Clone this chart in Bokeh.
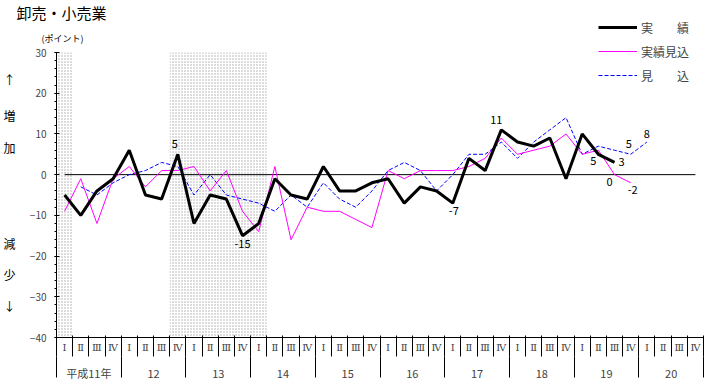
from bokeh.plotting import figure
from bokeh.models import (FixedTicker, LinearAxis, Range1d, Legend, LegendItem, Label,
                          ColumnDataSource)
from bokeh.core.properties import value
from bokeh.embed import file_html
from bokeh.resources import INLINE

# ---------------- data ----------------
quarter_names = ["Ⅰ", "Ⅱ", "Ⅲ", "Ⅳ"]
year_labels = ["平成11年", "12", "13", "14", "15", "16", "17", "18", "19", "20"]

# 実績 (actual)  平成11年Ⅰ .. 平成19年Ⅲ
jisseki = [-5, -10, -4, -1, 6, -5, -6, 5, -12, -5, -6, -15, -12, -1, -5, -6,
           2, -4, -4, -2, -1, -7, -3, -4, -7, 4, 1, 11, 8, 7, 9, -1, 10, 5, 3]
# 実績見込 (estimated actual)  平成11年Ⅰ .. 平成19年Ⅳ
jisseki_mikomi = [-9, -1, -12, -1, 2, -3, 1, 1, 2, -4, 1, -9, -14, 2, -16, -8,
                  -9, -9, -11, -13, 1, -1, 1, 1, 1, 2, 4, 9, 5, 6, 7, 10, 5, 6, 0, -2]
# 見込 (forecast)  平成11年Ⅱ .. 平成20年Ⅰ  (first quarter has no value)
mikomi = [None, -3, -5, -2, 0, 1, 3, 2, -5, 0, -5, -6, -7, -9, -5, -8,
          -2, -6, -8, -4, 1, 3, 1, -4, 0, 5, 5, 8, 4, 8, 11, 14, 5, 7, 6, 5, 8]

# shaded (recession) periods: (start year, start quarter, end year, end quarter)
shaded_periods = [("平成11年", "Ⅰ", "平成11年", "Ⅰ"), ("12", "Ⅳ", "14", "Ⅰ")]

# values printed next to points: (series, quarter index, dx px, dy px)
label_specs = [
    ("jisseki", 7, -3, -10),
    ("jisseki", 11, 0, 8),
    ("jisseki", 24, 1, 8),
    ("jisseki", 27, -5, -10),
    ("jisseki", 33, -5, 7),
    ("jisseki", 34, 7, 0),
    ("jisseki_mikomi", 34, -5, 7),
    ("jisseki_mikomi", 35, 2, 7),
    ("mikomi", 35, -2, -10),
    ("mikomi", 36, 0, -8),
]

# ---------------- geometry ----------------
W, H = 714, 389
n_q = len(year_labels) * 4
centers = [i + 0.5 for i in range(n_q)]
Y_MIN, Y_MAX = -40, 30
FL, FT, FW, FH = 56, 52, 647, 285      # plotting area on the page (px)
QW = FW / n_q                          # px per quarter
PYU = FH / (Y_MAX - Y_MIN)             # px per point
YEAR_ROW = 356                         # page y where the year row starts


def px2x(px):
    return (px - FL) / QW


def py2y(py):
    return Y_MAX - (py - FT) / PYU


JP = "Noto Sans CJK JP"

# the frame covers the whole page; axes are placed at fixed locations
p = figure(frame_width=W, frame_height=H,
           x_range=Range1d(px2x(0), px2x(W)), y_range=Range1d(py2y(H), py2y(0)),
           output_backend="svg", toolbar_location=None,
           min_border_left=0, min_border_right=0, min_border_top=0,
           min_border_bottom=0, x_axis_type=None, y_axis_type=None)
p.outline_line_color = None
p.background_fill_color = "white"
p.border_fill_color = "white"

# y axis
yaxis = LinearAxis(ticker=FixedTicker(ticks=list(range(Y_MIN, Y_MAX + 1, 10)),
                                      minor_ticks=list(range(Y_MIN, Y_MAX + 1, 2))),
                   fixed_location=0, bounds=(Y_MIN, Y_MAX))
yaxis.major_tick_in = 3
yaxis.major_tick_out = 2
yaxis.minor_tick_in = 0
yaxis.minor_tick_out = 2
yaxis.major_label_standoff = 8
yaxis.major_label_text_font = JP
yaxis.major_label_text_font_size = "10px"
p.add_layout(yaxis, "left")

# quarter axis
qaxis = LinearAxis(ticker=FixedTicker(ticks=centers, minor_ticks=list(range(n_q + 1))),
                   fixed_location=Y_MIN, bounds=(0, n_q))
qaxis.major_label_overrides = {c: quarter_names[i % 4] for i, c in enumerate(centers)}
qaxis.major_tick_in = 0
qaxis.major_tick_out = 0
qaxis.minor_tick_in = 2
qaxis.minor_tick_out = 19
qaxis.major_label_standoff = -15
qaxis.major_label_text_font = "DejaVu Serif"
qaxis.major_label_text_font_size = "10px"
p.add_layout(qaxis, "below")

# year axis
ycenters = [4 * k + 2 for k in range(len(year_labels))]
yraxis = LinearAxis(ticker=FixedTicker(ticks=ycenters, minor_ticks=list(range(0, n_q + 1, 4))),
                    fixed_location=py2y(YEAR_ROW), bounds=(0, n_q))
yraxis.major_label_overrides = {c: year_labels[k] for k, c in enumerate(ycenters)}
yraxis.axis_line_color = None
yraxis.major_tick_in = 0
yraxis.major_tick_out = 0
yraxis.minor_tick_in = 0
yraxis.minor_tick_out = 21
yraxis.major_label_standoff = -13
yraxis.major_label_text_font = JP
yraxis.major_label_text_font_size = "11px"
p.add_layout(yraxis, "below")


# shaded periods
def qidx(y, q):
    return year_labels.index(y) * 4 + quarter_names.index(q)


lefts, rights = [], []
for (y0, q0, y1, q1) in shaded_periods:
    lefts.append(qidx(y0, q0))
    rights.append(qidx(y1, q1) + 1)
p.quad(left=lefts, right=rights, bottom=Y_MIN, top=Y_MAX, fill_color=None,
       line_color=None, hatch_pattern="dot", hatch_color="#a8a8a8", hatch_scale=3,
       hatch_weight=1)

# zero line
p.segment(x0=[centers[0]], y0=[0], x1=[centers[-1]], y1=[0], line_color="black", line_width=1)


# series
def xy(series):
    xs = [centers[i] for i, v in enumerate(series) if v is not None]
    ys = [v for v in series if v is not None]
    return xs, ys


bx, by = xy(mikomi)
r_blue = p.line(bx, by, line_color="#0000FF", line_width=1, line_dash="4 2")
mx, my = xy(jisseki_mikomi)
r_mag = p.line(mx, my, line_color="#FF00FF", line_width=1)
kx, ky = xy(jisseki)
r_blk = p.line(kx, ky, line_color="black", line_width=3)

# value labels
series_map = {"jisseki": jisseki, "jisseki_mikomi": jisseki_mikomi, "mikomi": mikomi}
lx, ly, lt, ldx, ldy = [], [], [], [], []
for name, i, dx, dy in label_specs:
    v = series_map[name][i]
    lx.append(centers[i]); ly.append(v); lt.append(str(v)); ldx.append(dx); ldy.append(dy)
src = ColumnDataSource(dict(x=lx, y=ly, t=lt, dx=ldx, dy=ldy))
p.text(x="x", y="y", text="t", x_offset="dx", y_offset="dy", source=src,
       text_align="center", text_baseline="middle", text_font=value(JP),
       text_font_size=value("11px"), text_color="black")

# legend (position measured from the bottom-left of the frame)
legend = Legend(items=[LegendItem(label="実\u3000\u3000績", renderers=[r_blk]),
                       LegendItem(label="実績見込", renderers=[r_mag]),
                       LegendItem(label="見\u3000\u3000込", renderers=[r_blue])],
                location=(598, H - 85), glyph_width=39, glyph_height=20,
                label_height=20, spacing=4, padding=0, margin=0, label_standoff=4,
                border_line_color=None, background_fill_alpha=0,
                label_text_font=JP, label_text_font_size="12px")
p.add_layout(legend)


# texts around the chart
def add_text(txt, px, py, size, align="left"):
    p.add_layout(Label(x=px2x(px), y=py2y(py), text=txt, text_align=align,
                       text_baseline="middle", text_font=JP, text_font_size=size,
                       text_color="black"))


add_text("卸売・小売業", 16, 12, "15px")
add_text("(ポイント)", 62, 38, "9px", "center")
for ch, py in [("↑", 79), ("増", 115), ("加", 147), ("減", 243), ("少", 274), ("↓", 305)]:
    add_text(ch, 9, py, "12px", "center")

open("out.html", "w").write(file_html(p, INLINE))
